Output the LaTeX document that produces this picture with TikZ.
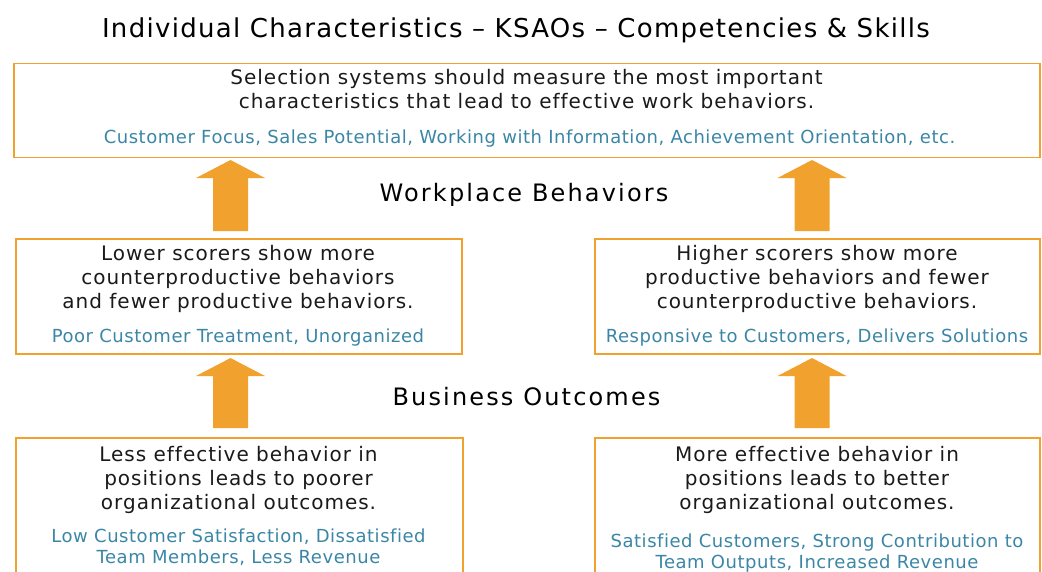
\documentclass[tikz,border=0pt]{standalone}
\usepackage{fontspec}
\setmainfont{DejaVu Sans}[Ligatures=NoCommon]
\usetikzlibrary{calc}
\definecolor{ochre}{HTML}{F0A12E}
\definecolor{tealblue}{HTML}{3B86A6}
\definecolor{ink}{HTML}{1A1A1A}
% block arrow pointing up: #1 = tail point, #2 = tip point
\newcommand\risearrow[2]{%
  \fill[ochre] let \p1=(#1), \p2=(#2) in
    (\x1-17.5pt,\y1) -- (\x1+17.5pt,\y1) -- (\x1+17.5pt,\y2-18pt)
    -- (\x1+34.5pt,\y2-18pt) -- (\x1,\y2) -- (\x1-34.5pt,\y2-18pt)
    -- (\x1-17.5pt,\y2-18pt) -- cycle;}
\begin{document}
\begin{tikzpicture}[x=1pt,y=-1pt,
  panel/.style={draw=ochre, line width=1.8pt, inner sep=0pt, anchor=north west},
  % multi-line text nodes sit on the baseline of their last line
  body/.style={anchor=base, align=center, inner sep=0pt, text=ink,
    font=\fontsize{20}{24}\selectfont\addfontfeature{LetterSpace=5}},
  note/.style={anchor=base, align=center, inner sep=0pt, text=tealblue,
    font=\fontsize{18}{21}\selectfont\addfontfeature{LetterSpace=3}},
  heading/.style={anchor=base, inner sep=0pt, text=black,
    font=\fontsize{24}{28}\selectfont\addfontfeature{LetterSpace=9}},
  title/.style={anchor=base, inner sep=0pt, text=black,
    font=\fontsize{26}{30}\selectfont\addfontfeature{LetterSpace=5}}
]
\useasboundingbox (0,0) rectangle (1042,571);
\clip (0,0) rectangle (1042,571);

% title
\node[title] (title) at (516,37) {Individual Characteristics – KSAOs – Competencies \& Skills};

% panels
\node[panel, minimum width=1026pt, minimum height=94pt] (sel) at (13,62.5) {};
\node[panel, minimum width=446pt, minimum height=115pt] (low) at (15,238) {};
\node[panel, minimum width=445pt, minimum height=115pt] (high) at (594,238) {};
\node[panel, minimum width=447pt, minimum height=160pt] (less) at (15,437) {};
\node[panel, minimum width=445pt, minimum height=160pt] (more) at (594,437) {};

% panel texts
\node[body] (selT) at (526.5,108) {Selection systems should measure the most important\\characteristics that lead to effective work behaviors.};
\node[note] (selN) at (529.5,143) {Customer Focus, Sales Potential, Working with Information, Achievement Orientation, etc.};

\node[body] (lowT) at (238,308) {Lower scorers show more\\counterproductive behaviors\\and fewer productive behaviors.};
\node[note] (lowN) at (238,342) {Poor Customer Treatment, Unorganized};

\node[body] (highT) at (817,308) {Higher scorers show more\\productive behaviors and fewer\\counterproductive behaviors.};
\node[note] (highN) at (817,342) {Responsive to Customers, Delivers Solutions};

\node[body] (lessT) at (238.5,509) {Less effective behavior in\\positions leads to poorer\\organizational outcomes.};
\node[note] (lessN) at (238.5,563) {Low Customer Satisfaction, Dissatisfied\\Team Members, Less Revenue};

\node[body] (moreT) at (817,509) {More effective behavior in\\positions leads to better\\organizational outcomes.};
\node[note] (moreN) at (817,568) {Satisfied Customers, Strong Contribution to\\Team Outputs, Increased Revenue};

% section headings
\node[heading] (work) at (524,201.5) {Workplace Behaviors};
\node[heading] (biz) at (526.5,405) {Business Outcomes};

% arrows between panels
\coordinate (a1tail) at (230.5,231); \coordinate (a1tip) at (230.5,160);
\coordinate (a2tail) at (812,231);   \coordinate (a2tip) at (812,160);
\coordinate (a3tail) at (230.5,428); \coordinate (a3tip) at (230.5,358);
\coordinate (a4tail) at (812,428);   \coordinate (a4tip) at (812,358);
\risearrow{a1tail}{a1tip}
\risearrow{a2tail}{a2tip}
\risearrow{a3tail}{a3tip}
\risearrow{a4tail}{a4tip}
\end{tikzpicture}
\end{document}
